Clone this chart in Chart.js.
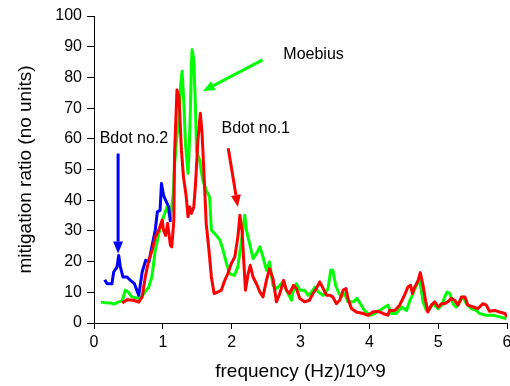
<!DOCTYPE html>
<html>
<head>
<meta charset="utf-8">
<script src="https://cdn.jsdelivr.net/npm/chart.js@4/dist/chart.umd.min.js"></script>
<style>
  html, body { margin: 0; padding: 0; background: #fff; }
  #wrap { width: 510px; height: 386px; position: relative; }
</style>
</head>
<body>
<div id="wrap"><canvas id="chart-mitigation"></canvas></div>
<script>
// values
const moebiusX = [0.10, 0.17, 0.24, 0.30, 0.35, 0.41, 0.455, 0.50, 0.55, 0.61, 0.67, 0.72, 0.795, 0.84, 0.89, 0.94, 1.01, 1.06, 1.11, 1.15, 1.17, 1.20, 1.235, 1.26, 1.28, 1.30, 1.33, 1.366, 1.385, 1.40, 1.415, 1.425, 1.45, 1.475, 1.49, 1.535, 1.58, 1.63, 1.68, 1.705, 1.755, 1.83, 1.875, 1.925, 1.97, 2.04, 2.09, 2.15, 2.19, 2.215, 2.26, 2.31, 2.36, 2.41, 2.455, 2.505,
  2.55, 2.60, 2.65, 2.70, 2.745, 2.80, 2.87, 2.89, 2.94, 2.99, 3.06, 3.11, 3.16, 3.21, 3.26, 3.33, 3.40, 3.44, 3.47, 3.51, 3.55, 3.59, 3.64, 3.69, 3.77, 3.82, 3.87, 3.93, 4.005, 4.08, 4.15, 4.225, 4.27, 4.32, 4.39, 4.47, 4.54, 4.59, 4.635, 4.685, 4.72, 4.755, 4.78, 4.83, 4.88, 4.925, 5.00, 5.05, 5.095, 5.13, 5.17, 5.215, 5.26, 5.31, 5.36, 5.41, 5.48, 5.555, 5.60, 5.70, 5.80, 5.895, 5.99];
const moebiusY = [6.8, 6.6, 6.5, 6.2, 6.8, 7.2, 10.7, 10.0, 8.5, 8.2, 8.0, 9.5, 11.7, 15.0, 23.7, 29.0, 34.6, 37.8, 34.0, 42.0, 51.0, 60.0, 66.0, 78.0, 82.0, 74.0, 58.0, 48.7, 58.0, 69.0, 84.0, 89.0, 86.0, 69.0, 56.0, 53.0, 46.5, 43.3, 41.0, 30.2, 29.1, 27.0, 23.7, 19.4, 16.1, 15.5, 18.3, 28.0, 35.1, 30.2, 25.9, 21.0, 22.6, 24.8, 21.5, 17.2,
  19.9, 12.3, 11.2, 12.3, 13.4, 10.5, 7.4, 10.1, 12.8, 10.7, 10.7, 9.0, 10.1, 11.7, 10.1, 9.0, 11.2, 17.2, 17.2, 12.3, 10.1, 8.5, 9.6, 6.9, 6.9, 8.0, 6.3, 4.1, 2.5, 3.1, 4.1, 5.2, 5.8, 3.1, 3.1, 5.2, 4.1, 7.4, 9.6, 12.3, 14.5, 10.7, 6.9, 4.1, 4.7, 6.3, 4.7, 5.8, 8.5, 10.1, 9.6, 6.3, 5.2, 6.9, 8.5, 6.3, 4.7, 4.1, 3.1, 2.5, 2.5, 2.0, 1.4];

const bdot1X = [0.41, 0.48, 0.575, 0.65, 0.70, 0.745, 0.795, 0.845, 0.89, 0.94, 0.99, 1.01, 1.04, 1.07, 1.11, 1.13, 1.16, 1.17, 1.205, 1.235, 1.27, 1.30, 1.34, 1.366, 1.39, 1.415, 1.45, 1.475, 1.51, 1.545, 1.57, 1.60, 1.63, 1.67, 1.705, 1.745, 1.80, 1.85, 1.90, 1.945, 1.995, 2.045, 2.09, 2.12, 2.15, 2.175, 2.20, 2.24, 2.27, 2.31, 2.36, 2.41, 2.455, 2.505,
  2.55, 2.60, 2.65, 2.70, 2.755, 2.795, 2.84, 2.90, 2.94, 2.99, 3.06, 3.13, 3.18, 3.23, 3.28, 3.33, 3.38, 3.43, 3.47, 3.52, 3.57, 3.62, 3.66, 3.69, 3.74, 3.81, 3.91, 3.98, 4.05, 4.125, 4.20, 4.27, 4.295, 4.37, 4.44, 4.51, 4.56, 4.60, 4.625, 4.66, 4.71, 4.74, 4.78, 4.82, 4.85, 4.90, 4.95, 5.00, 5.05, 5.095, 5.14, 5.19, 5.24, 5.29, 5.34, 5.39, 5.43, 5.51, 5.58, 5.65, 5.70, 5.745, 5.82, 5.89, 5.97, 6.00];
const bdot1Y = [6.5, 7.6, 7.4, 6.8, 8.5, 15.0, 20.4, 23.7, 28.0, 30.2, 33.5, 30.2, 28.5, 32.4, 25.3, 24.8, 33.5, 55.0, 75.9, 73.7, 56.3, 47.6, 41.1, 34.6, 37.8, 35.7, 37.8, 45.4, 59.6, 68.3, 61.8, 47.6, 32.4, 23.7, 15.0, 9.6, 10.1, 10.7, 13.9, 16.1, 19.4, 21.5, 28.0, 35.1, 30.2, 20.4, 10.7, 16.1, 18.8, 15.0, 12.8, 10.1, 8.5, 13.9,
  17.7, 14.5, 6.9, 9.6, 13.9, 10.7, 9.6, 12.3, 11.2, 8.0, 6.9, 7.4, 9.6, 11.2, 13.4, 11.2, 9.0, 9.0, 8.5, 6.3, 7.4, 10.7, 11.2, 8.0, 4.7, 3.6, 3.1, 2.5, 3.6, 3.8, 3.1, 2.5, 4.1, 4.1, 5.8, 9.0, 11.7, 12.3, 9.6, 11.7, 13.9, 16.4, 12.3, 6.9, 3.6, 5.8, 6.9, 5.2, 6.3, 6.3, 6.9, 8.0, 7.4, 5.8, 8.5, 8.5, 5.8, 5.2, 4.7, 6.3, 5.8, 3.8, 4.1, 3.6, 3.1, 2.0];

const bdot2X = [0.155, 0.19, 0.26, 0.286, 0.335, 0.359, 0.383, 0.42, 0.48, 0.53, 0.587, 0.65, 0.70, 0.75, 0.80, 0.84, 0.89, 0.92, 0.96, 0.98, 1.01, 1.04, 1.085, 1.11];
const bdot2Y = [14.1, 12.8, 12.8, 16.6, 18.3, 22.0, 18.3, 15.0, 15.0, 13.9, 12.8, 9.0, 16.6, 20.4, 20.0, 24.8, 30.2, 36.2, 36.7, 45.4, 41.6, 40.0, 37.8, 32.9];

// annotation texts and arrows, in data units
const noteTexts = ['Moebius', 'Bdot no.1', 'Bdot no.2'];
const noteX = [3.19, 2.35, 0.58];
const noteY = [87.3, 63.4, 60.2];
const arrowColors = ['#00ff00', '#ff0000', '#0000ff'];
const arrowFrom = [[2.45, 85.7], [1.95, 56.9], [0.35, 55.2]];
const arrowTo = [[1.58, 75.5], [2.09, 37.8], [0.35, 22.6]];

const toPoints = (xs, ys) => xs.map((x, i) => ({ x, y: ys[i] }));

const annotations = {
  id: 'annotations',
  afterDatasetsDraw(chart) {
    const { ctx, scales: { x, y } } = chart;
    ctx.save();
    // arrows
    arrowFrom.forEach((from, i) => {
      const x0 = x.getPixelForValue(from[0]), y0 = y.getPixelForValue(from[1]);
      const x1 = x.getPixelForValue(arrowTo[i][0]), y1 = y.getPixelForValue(arrowTo[i][1]);
      const ang = Math.atan2(y1 - y0, x1 - x0);
      const headLen = 12, headHalf = 5;
      const bx = x1 - headLen * Math.cos(ang), by = y1 - headLen * Math.sin(ang);
      ctx.strokeStyle = arrowColors[i];
      ctx.fillStyle = arrowColors[i];
      ctx.lineWidth = 3;
      ctx.beginPath();
      ctx.moveTo(x0, y0);
      ctx.lineTo(bx, by);
      ctx.stroke();
      ctx.beginPath();
      ctx.moveTo(x1, y1);
      ctx.lineTo(bx + headHalf * Math.sin(ang), by - headHalf * Math.cos(ang));
      ctx.lineTo(bx - headHalf * Math.sin(ang), by + headHalf * Math.cos(ang));
      ctx.closePath();
      ctx.fill();
    });
    // labels
    ctx.fillStyle = '#000';
    ctx.font = '16px "Liberation Sans", Arial, sans-serif';
    ctx.textAlign = 'center';
    ctx.textBaseline = 'middle';
    noteTexts.forEach((t, i) => {
      ctx.fillText(t, x.getPixelForValue(noteX[i]), y.getPixelForValue(noteY[i]));
    });
    ctx.restore();
  }
};

const tickFont = { family: '"Liberation Sans", Arial, sans-serif', size: 16 };
const titleFont = { family: '"Liberation Sans", Arial, sans-serif', size: 19 };

new Chart(document.getElementById('chart-mitigation').getContext('2d'), {
  type: 'line',
  data: {
    datasets: [
      { label: 'Bdot no.1', data: toPoints(bdot1X, bdot1Y), borderColor: '#ff0000' },
      { label: 'Bdot no.2', data: toPoints(bdot2X, bdot2Y), borderColor: '#0000ff' },
      { label: 'Moebius', data: toPoints(moebiusX, moebiusY), borderColor: '#00ff00' }
    ]
  },
  options: {
    responsive: true,
    maintainAspectRatio: false,
    animation: false,
    layout: { padding: { top: 16, right: 3, left: 0, bottom: 0 } },
    elements: {
      point: { radius: 0 },
      line: { borderWidth: 3, tension: 0, fill: false, borderJoinStyle: 'round' }
    },
    scales: {
      x: {
        type: 'linear',
        min: 0,
        max: 6,
        ticks: { stepSize: 1, color: '#000', font: tickFont, padding: 4, maxRotation: 0 },
        grid: { drawOnChartArea: false, drawTicks: true, tickLength: 6, color: '#000' },
        border: { color: '#000', width: 1 },
        title: { display: true, text: 'frequency (Hz)/10^9', color: '#000', font: titleFont, padding: { top: 0, bottom: 3 } },
        afterFit: (s) => { s.height = 63; s.paddingLeft = 0; s.paddingRight = 0; }
      },
      y: {
        min: 0,
        max: 100,
        ticks: { stepSize: 10, color: '#000', font: tickFont, padding: 5 },
        grid: { drawOnChartArea: false, drawTicks: true, tickLength: 7, color: '#000' },
        border: { color: '#000', width: 1 },
        title: { display: true, text: 'mitigation ratio (no units)', color: '#000', font: titleFont, padding: { top: 14, bottom: 0 } },
        afterFit: (s) => { s.width = 94; s.paddingTop = 0; s.paddingBottom = 0; }
      }
    },
    plugins: {
      legend: { display: false },
      tooltip: { enabled: false }
    }
  },
  plugins: [annotations]
});
</script>
</body>
</html>
